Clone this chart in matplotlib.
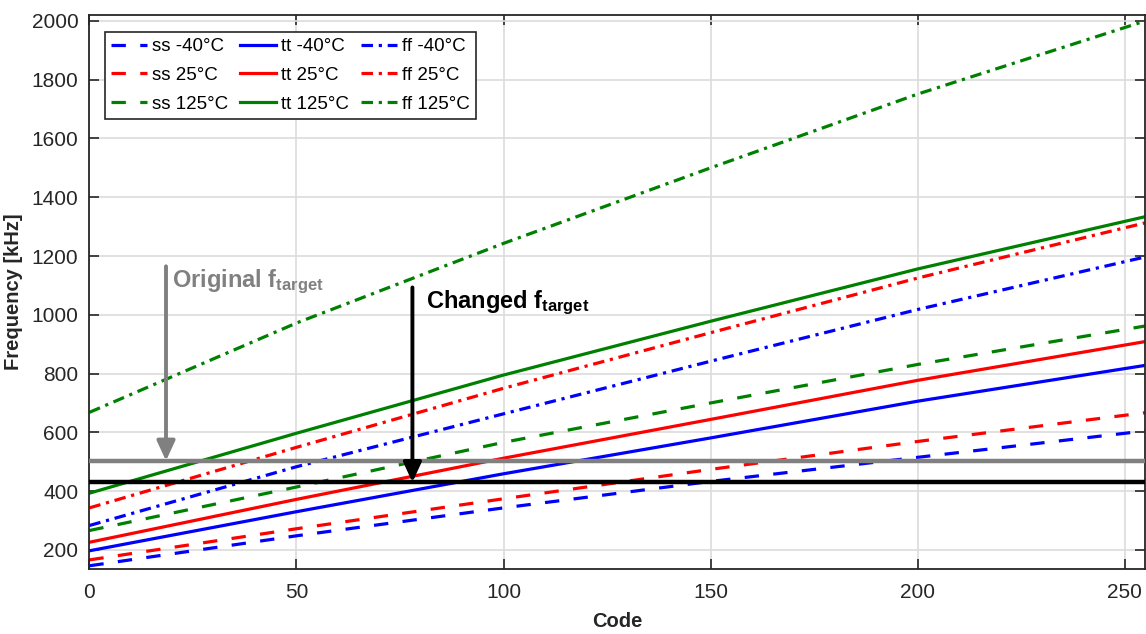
import matplotlib
matplotlib.use("Agg")
import matplotlib.pyplot as plt
from matplotlib import font_manager

# Sampled DCO codes and measured frequencies [kHz] per corner / temperature
codes = [0, 50, 100, 150, 200, 255]

ss_m40 = [146, 248, 343, 433, 515, 605]
ss_25 = [166, 272, 374, 474, 569, 667]
ss_125 = [266, 414, 566, 700, 831, 962]

tt_m40 = [197, 330, 459, 581, 706, 828]
tt_25 = [226, 372, 512, 644, 777, 909]
tt_125 = [393, 597, 795, 978, 1156, 1334]

ff_m40 = [283, 483, 663, 842, 1018, 1197]
ff_25 = [343, 549, 750, 939, 1125, 1313]
ff_125 = [668, 972, 1243, 1500, 1751, 2000]

f_original = 503
f_changed = 430

x_ticks = [0, 50, 100, 150, 200, 250]
y_ticks = [200, 400, 600, 800, 1000, 1200, 1400, 1600, 1800, 2000]

names = [f.name for f in font_manager.fontManager.ttflist]
family = "Liberation Sans Narrow" if "Liberation Sans Narrow" in names else "Liberation Sans"
plt.rcParams["font.family"] = [family, "DejaVu Sans"]
plt.rcParams["mathtext.fontset"] = "custom"
plt.rcParams["mathtext.rm"] = family
plt.rcParams["mathtext.bf"] = family + ":bold"
plt.rcParams["mathtext.it"] = family + ":italic"

fig = plt.figure(figsize=(11.46, 6.34), dpi=100)
ax = fig.add_axes([0.078, 0.1025, 0.9215, 0.8738])

blue, red, green = "#0000ff", "#ff0000", "#008000"
dashed = (0, (4.5, 4.5))
dashdot = (0, (3.6, 1.8, 1.0, 1.8))
lw = 2.3

series = [
    (ss_m40, blue, dashed, "ss -40°C"),
    (ss_25, red, dashed, "ss 25°C"),
    (ss_125, green, dashed, "ss 125°C"),
    (tt_m40, blue, "-", "tt -40°C"),
    (tt_25, red, "-", "tt 25°C"),
    (tt_125, green, "-", "tt 125°C"),
    (ff_m40, blue, dashdot, "ff -40°C"),
    (ff_25, red, dashdot, "ff 25°C"),
    (ff_125, green, dashdot, "ff 125°C"),
]
for vals, col, ls, lab in series:
    ax.plot(codes, vals, color=col, linestyle=ls, linewidth=lw, label=lab)

ax.axhline(f_original, color="#808080", linewidth=3.2, zorder=3)
ax.axhline(f_changed, color="black", linewidth=3.2, zorder=3)

# arrows pointing at the target frequencies
ax.annotate("", xy=(18.5, f_original), xytext=(18.5, 1165),
            arrowprops=dict(arrowstyle="-|>,head_length=1.2,head_width=0.55",
                            color="#808080", lw=2.8, shrinkA=0, shrinkB=0))
ax.text(20.0, 1112, r"$\mathbf{Original\ f_{target}}$", color="#808080",
        fontsize=17, va="center", ha="left")

ax.annotate("", xy=(78.0, f_changed), xytext=(78.0, 1093),
            arrowprops=dict(arrowstyle="-|>,head_length=1.2,head_width=0.55",
                            color="black", lw=2.8, shrinkA=0, shrinkB=0))
ax.text(81.3, 1040, r"$\mathbf{Changed\ f_{target}}$", color="black",
        fontsize=17, va="center", ha="left")

ax.set_xlim(0, 255)
ax.set_ylim(135, 2020)
ax.set_xticks(x_ticks)
ax.set_yticks(y_ticks)
ax.grid(True, color="#dcdcdc", linewidth=1.2)
ax.set_axisbelow(True)
ax.tick_params(direction="in", length=7, width=1.2, labelsize=15,
               top=True, right=True, colors="#262626")
ax.tick_params(axis="x", pad=10)
ax.tick_params(axis="y", pad=8)
for s in ax.spines.values():
    s.set_color("#262626")
    s.set_linewidth(1.3)

ax.set_xlabel("Code", fontsize=14.5, fontweight="bold", color="#262626", labelpad=7)
ax.set_ylabel("Frequency [kHz]", fontsize=14.5, fontweight="bold", color="#262626", labelpad=6)

leg = ax.legend(loc="upper left", ncol=3, fontsize=13.5, frameon=True, fancybox=False,
                edgecolor="#262626", framealpha=1.0, handlelength=1.9, handletextpad=0.27,
                columnspacing=0.65, labelspacing=0.62, borderpad=0.35,
                bbox_to_anchor=(0.0055, 0.987))
leg.get_frame().set_linewidth(1.2)

fig.savefig("out.png", dpi=100)
